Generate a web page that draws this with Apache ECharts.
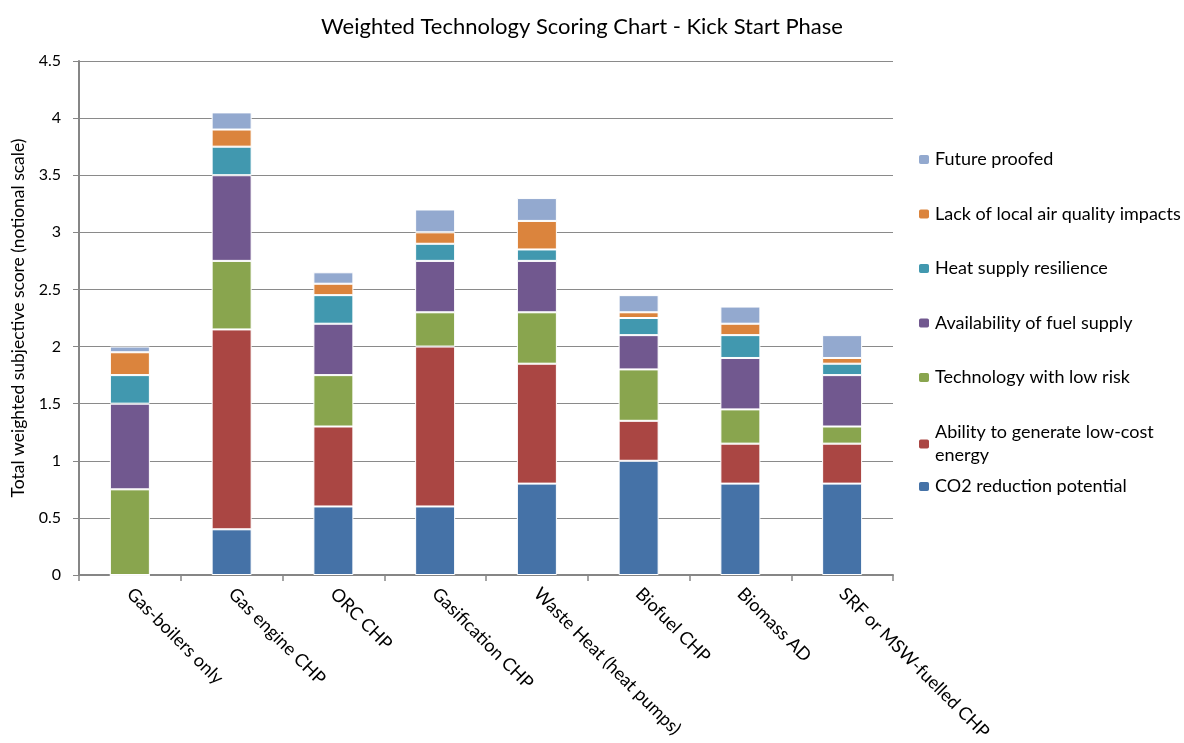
<!DOCTYPE html>
<html><head><meta charset="utf-8">
<script src="https://cdn.jsdelivr.net/npm/echarts@6/dist/echarts.min.js"></script>
<style>html,body{margin:0;padding:0;background:#fff}#c{width:1184px;height:743px}</style>
</head><body><div id="c"></div>
<script>
const categories = ["Gas-boilers only","Gas engine CHP","ORC CHP","Gasification CHP","Waste Heat (heat pumps)","Biofuel CHP","Biomass AD","SRF or MSW-fuelled CHP"];
const co2Reduction   = [0,    0.4,  0.6,  0.6,  0.8,  1.0,  0.8,  0.8];
const lowCostEnergy  = [0,    1.75, 0.7,  1.4,  1.05, 0.35, 0.35, 0.35];
const lowRiskTech    = [0.75, 0.6,  0.45, 0.3,  0.45, 0.45, 0.3,  0.15];
const fuelSupply     = [0.75, 0.75, 0.45, 0.45, 0.45, 0.3,  0.45, 0.45];
const heatResilience = [0.25, 0.25, 0.25, 0.15, 0.1,  0.15, 0.2,  0.1];
const airQuality     = [0.2,  0.15, 0.1,  0.1,  0.25, 0.05, 0.1,  0.05];
const futureProofed  = [0.05, 0.15, 0.1,  0.2,  0.2,  0.15, 0.15, 0.2];
const yTicks = [0, 0.5, 1, 1.5, 2, 2.5, 3, 3.5, 4, 4.5];

const seriesDefs = [
  ["CO2 reduction potential", co2Reduction, "#4572A7"],
  ["Ability to generate low-cost\nenergy", lowCostEnergy, "#AA4643"],
  ["Technology with low risk", lowRiskTech, "#89A54E"],
  ["Availability of fuel supply", fuelSupply, "#71588F"],
  ["Heat supply resilience", heatResilience, "#4198AF"],
  ["Lack of local air quality impacts", airQuality, "#DB843D"],
  ["Future proofed", futureProofed, "#93A9CF"]
];
const font = "Lato, 'Open Sans', sans-serif";
const legendText = {fontFamily: font, fontSize: 18, color: "#000", lineHeight: 23};
const chart = echarts.init(document.getElementById('c'));
chart.setOption({
  animation: false,
  title: {text: "Weighted Technology Scoring Chart - Kick Start Phase", left: 577, textAlign: "center", top: 11,
          textStyle: {fontFamily: font, fontSize: 22, fontWeight: "normal", color: "#000"}},
  legend: [
    {orient: "vertical", left: 912, top: 143, itemWidth: 12, itemHeight: 11, itemGap: 31.5, textStyle: legendText,
     data: [seriesDefs[6][0], seriesDefs[5][0], seriesDefs[4][0], seriesDefs[3][0], seriesDefs[2][0]]},
    {orient: "vertical", left: 912, top: 416, itemWidth: 12, itemHeight: 11, textStyle: legendText,
     data: [seriesDefs[1][0]]},
    {orient: "vertical", left: 912, top: 470, itemWidth: 12, itemHeight: 11, textStyle: legendText,
     data: [seriesDefs[0][0]]}
  ],
  grid: {left: 79, right: 291, top: 61, bottom: 168, containLabel: false, outerBoundsMode: "none"},
  xAxis: {type: "category", data: categories,
    axisLine: {lineStyle: {color: "#868686", width: 2}},
    axisTick: {show: true, length: 6, lineStyle: {color: "#868686", width: 1.5}},
    axisLabel: {rotate: -45, interval: 0, margin: 16, fontFamily: font, fontSize: 18, color: "#000"}},
  yAxis: {type: "value", min: 0, max: 4.5, interval: 0.5,
    name: "Total weighted subjective score (notional scale)", nameLocation: "middle", nameGap: 52,
    nameTextStyle: {fontFamily: font, fontSize: 17.5, color: "#000"},
    axisLine: {show: true, lineStyle: {color: "#868686", width: 2}},
    axisTick: {show: true, length: 6, lineStyle: {color: "#868686"}},
    axisLabel: {fontFamily: font, fontSize: 16, color: "#000", margin: 18,
      formatter: v => yTicks.includes(v) ? String(v) : ""},
    splitLine: {lineStyle: {color: "#8a8a8a", width: 1.2}}},
  series: seriesDefs.map(([name, data, color]) => ({
    name, type: "bar", stack: "total", data, barWidth: 40,
    itemStyle: {color, borderColor: "#fff", borderWidth: 1}
  }))
});
</script></body></html>
